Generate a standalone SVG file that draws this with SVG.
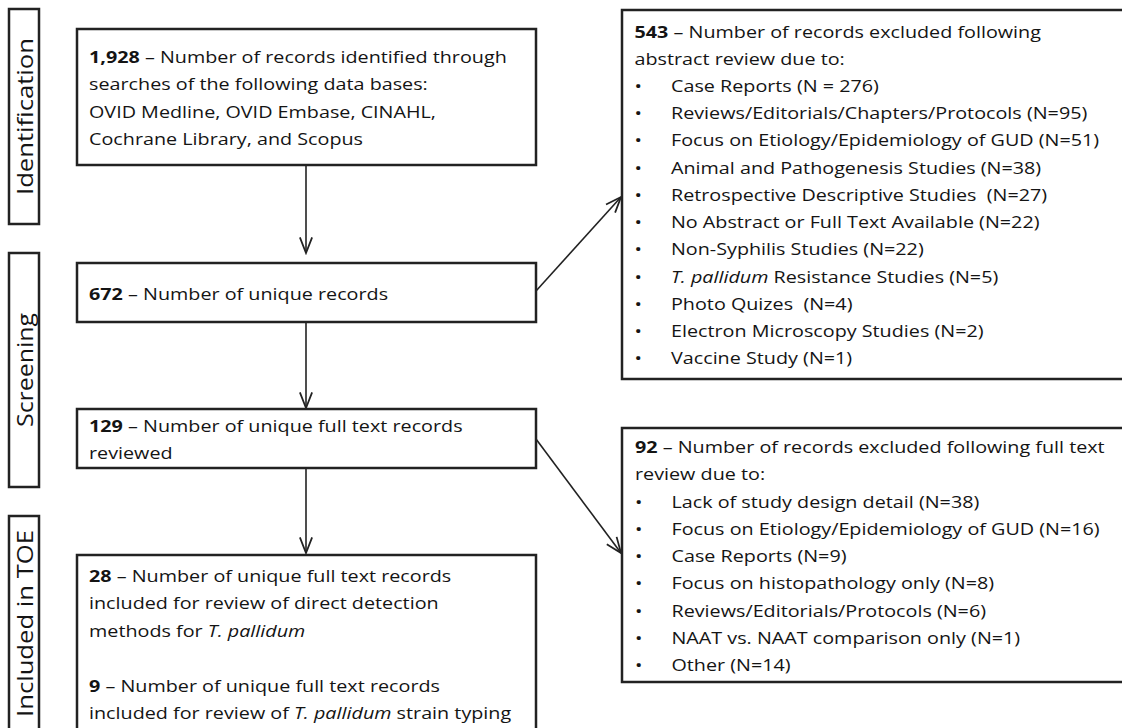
<svg xmlns="http://www.w3.org/2000/svg" width="1122" height="728" viewBox="0 0 1122 728">
<defs>
<style>
.box{fill:#fff;stroke:#222;stroke-width:2.5}
.lbl{fill:none;stroke:#222;stroke-width:2.5}
.t{font-family:"Open Sans","Liberation Sans",sans-serif;font-size:15.5px;fill:#141414}
.r{font-family:"Open Sans","Liberation Sans",sans-serif;font-size:21px;fill:#141414}
.b{font-weight:bold}
.i{font-style:italic}
.con{fill:none;stroke:#222;stroke-width:1.6}
</style>
<marker id="ah" markerUnits="userSpaceOnUse" markerWidth="20" markerHeight="20" viewBox="-16 -8 18 16" refX="0" refY="0" orient="auto">
<path d="M-14,-5.5 L0,0 L-14,5.5" fill="none" stroke="#222" stroke-width="1.6"/>
</marker>
</defs>
<rect width="1122" height="728" fill="#fff"/>

<g id="label-identification">
<rect class="lbl" x="9" y="9" width="30" height="215"/>
<text class="r" transform="translate(33,195) rotate(-90)" textLength="157" lengthAdjust="spacingAndGlyphs">Identification</text>
</g>
<g id="label-screening">
<rect class="lbl" x="9" y="253" width="30" height="234"/>
<text class="r" transform="translate(33,427) rotate(-90)" textLength="114" lengthAdjust="spacingAndGlyphs">Screening</text>
</g>
<g id="label-included">
<rect class="lbl" x="9" y="516" width="30" height="215"/>
<text class="r" transform="translate(33,717) rotate(-90)" textLength="187" lengthAdjust="spacingAndGlyphs">Included in TOE</text>
</g>

<g id="node-identified">
<rect class="box" x="77" y="29" width="459" height="136"/>
<text class="t" transform="translate(89,63) scale(1.275,1)">
<tspan x="0" y="0"><tspan class="b">1,928</tspan> – Number of records identified through</tspan>
<tspan x="0" y="27.5">searches of the following data bases:</tspan>
<tspan x="0" y="55">OVID Medline, OVID Embase, CINAHL,</tspan>
<tspan x="0" y="82.5">Cochrane Library, and Scopus</tspan>
</text>
</g>

<g id="node-unique">
<rect class="box" x="77" y="263" width="459" height="59"/>
<text class="t" transform="translate(89,300) scale(1.275,1)"><tspan class="b">672</tspan> – Number of unique records</text>
</g>

<g id="node-fulltext">
<rect class="box" x="77" y="409" width="459" height="59"/>
<text class="t" transform="translate(89,432) scale(1.275,1)">
<tspan x="0" y="0"><tspan class="b">129</tspan> – Number of unique full text records</tspan>
<tspan x="0" y="27.3">reviewed</tspan>
</text>
</g>

<g id="node-included">
<rect class="box" x="77" y="555" width="459" height="190"/>
<text class="t" transform="translate(89,582) scale(1.275,1)">
<tspan x="0" y="0"><tspan class="b">28</tspan> – Number of unique full text records</tspan>
<tspan x="0" y="27.3">included for review of direct detection</tspan>
<tspan x="0" y="54.6">methods for <tspan class="i">T. pallidum</tspan></tspan>
<tspan x="0" y="109.6"><tspan class="b">9</tspan> – Number of unique full text records</tspan>
<tspan x="0" y="137">included for review of <tspan class="i">T. pallidum</tspan> strain typing</tspan>
</text>
</g>

<g id="node-excluded-abstract">
<rect class="box" x="622" y="10" width="505" height="369"/>
<text class="t" transform="translate(634.5,37.5) scale(1.275,1)">
<tspan x="0" y="0"><tspan class="b">543</tspan> – Number of records excluded following</tspan>
<tspan x="0" y="27.25">abstract review due to:</tspan>
<tspan x="0" y="54.5">•</tspan><tspan x="28.6" y="54.5">Case Reports (N = 276)</tspan>
<tspan x="0" y="81.75">•</tspan><tspan x="28.6" y="81.75">Reviews/Editorials/Chapters/Protocols (N=95)</tspan>
<tspan x="0" y="109">•</tspan><tspan x="28.6" y="109">Focus on Etiology/Epidemiology of GUD (N=51)</tspan>
<tspan x="0" y="136.25">•</tspan><tspan x="28.6" y="136.25">Animal and Pathogenesis Studies (N=38)</tspan>
<tspan x="0" y="163.5">•</tspan><tspan x="28.6" y="163.5">Retrospective Descriptive Studies&#160; (N=27)</tspan>
<tspan x="0" y="190.75">•</tspan><tspan x="28.6" y="190.75">No Abstract or Full Text Available (N=22)</tspan>
<tspan x="0" y="218">•</tspan><tspan x="28.6" y="218">Non-Syphilis Studies (N=22)</tspan>
<tspan x="0" y="245.25">•</tspan><tspan x="28.6" y="245.25"><tspan class="i">T. pallidum</tspan> Resistance Studies (N=5)</tspan>
<tspan x="0" y="272.5">•</tspan><tspan x="28.6" y="272.5">Photo Quizes&#160; (N=4)</tspan>
<tspan x="0" y="299.75">•</tspan><tspan x="28.6" y="299.75">Electron Microscopy Studies (N=2)</tspan>
<tspan x="0" y="327">•</tspan><tspan x="28.6" y="327">Vaccine Study (N=1)</tspan>
</text>
</g>

<g id="node-excluded-fulltext">
<rect class="box" x="622" y="428" width="505" height="254"/>
<text class="t" transform="translate(635,453) scale(1.275,1)">
<tspan x="0" y="0"><tspan class="b">92</tspan> – Number of records excluded following full text</tspan>
<tspan x="0" y="27.3">review due to:</tspan>
<tspan x="0" y="54.6">•</tspan><tspan x="28.6" y="54.6">Lack of study design detail (N=38)</tspan>
<tspan x="0" y="81.9">•</tspan><tspan x="28.6" y="81.9">Focus on Etiology/Epidemiology of GUD (N=16)</tspan>
<tspan x="0" y="109.2">•</tspan><tspan x="28.6" y="109.2">Case Reports (N=9)</tspan>
<tspan x="0" y="136.5">•</tspan><tspan x="28.6" y="136.5">Focus on histopathology only (N=8)</tspan>
<tspan x="0" y="163.8">•</tspan><tspan x="28.6" y="163.8">Reviews/Editorials/Protocols (N=6)</tspan>
<tspan x="0" y="191.1">•</tspan><tspan x="28.6" y="191.1">NAAT vs. NAAT comparison only (N=1)</tspan>
<tspan x="0" y="218.4">•</tspan><tspan x="28.6" y="218.4">Other (N=14)</tspan>
</text>
</g>

<g id="connectors">
<line class="con" x1="306" y1="165" x2="306" y2="253" marker-end="url(#ah)"/>
<line class="con" x1="306" y1="322" x2="306" y2="408" marker-end="url(#ah)"/>
<line class="con" x1="306" y1="468" x2="306" y2="553" marker-end="url(#ah)"/>
<line class="con" x1="536" y1="291" x2="621" y2="197" marker-end="url(#ah)"/>
<line class="con" x1="536" y1="439" x2="621" y2="553" marker-end="url(#ah)"/>
</g>
</svg>
